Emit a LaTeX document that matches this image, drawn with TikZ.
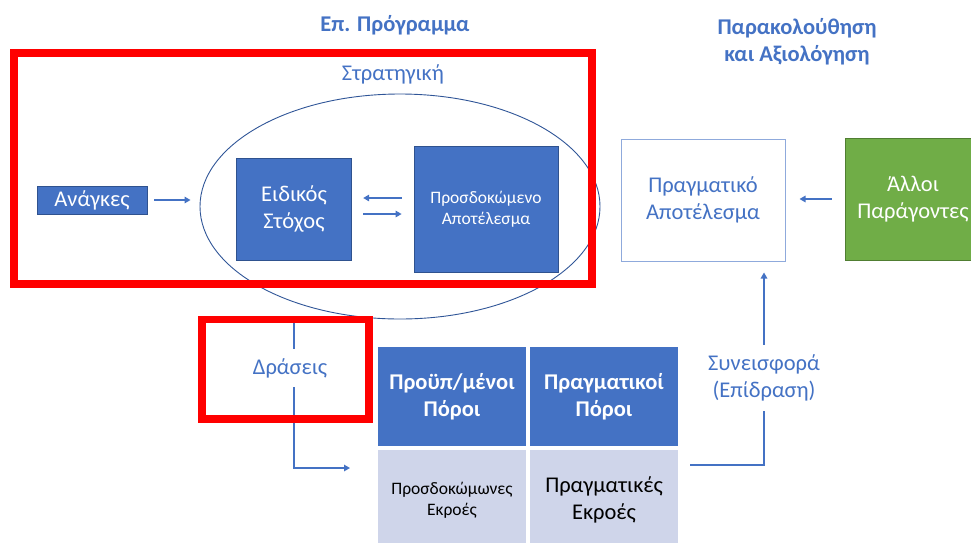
\documentclass[tikz,border=0pt]{standalone}
\usepackage{fontspec}
\setmainfont{Carlito}
\usetikzlibrary{arrows.meta,shapes.geometric,calc}

\definecolor{boxblue}{HTML}{4472C4}
\definecolor{boxedge}{HTML}{2F528F}
\definecolor{paleblue}{HTML}{CFD5EA}
\definecolor{frameblue}{HTML}{8FAADC}
\definecolor{leafgreen}{HTML}{70AD47}
\definecolor{leafedge}{HTML}{507E32}
\definecolor{ovalblue}{HTML}{2F5597}
\definecolor{markred}{HTML}{FF0000}

\tikzset{
  bigtext/.style={font=\fontsize{22.5}{27}\selectfont},
  boldtext/.style={font=\bfseries\fontsize{22.5}{27}\selectfont},
  smalltext/.style={font=\fontsize{17.5}{21}\selectfont},
  bluebox/.style={draw=boxedge, line width=0.8pt, fill=boxblue, text=white, align=center, inner sep=0pt},
  bluetext/.style={text=boxblue, align=center, inner sep=0pt},
  flow/.style={draw=boxblue, line width=1.4pt, -{Triangle[length=6pt,width=6.5pt]}},
  plainflow/.style={draw=boxblue, line width=1.4pt},
  cell/.style={inner sep=0pt, align=center, minimum width=148.5pt},
  redmark/.style={draw=markred, line width=7.5pt},
}

\begin{document}
\begin{tikzpicture}[x=1pt, y=-1pt]
  \useasboundingbox (0,0) rectangle (971,542);
  % titles
  \node[bluetext, boldtext] (progtitle) at (395,25) {Επ. Πρόγραμμα};
  \node[bluetext, boldtext] (evaltitle) at (797,41.5) {Παρακολούθηση\\και Αξιολόγηση};
  % strategy
  \node[bluetext, bigtext] (strattitle) at (393,74) {Στρατηγική};
  \node[ellipse, draw=ovalblue, line width=0.9pt, minimum width=400pt, minimum height=225pt] (strat) at (400,206.5) {};
  \node[bluebox, bigtext, minimum width=110pt, minimum height=28pt] (needs) at (92,200) {Ανάγκες};
  \node[bluebox, bigtext, minimum width=115.5pt, minimum height=102pt] (goal) at (294,209) {Ειδικός\\Στόχος};
  \node[bluebox, smalltext, minimum width=144pt, minimum height=126pt] (expected) at (486,209) {Προσδοκώμενο\\Αποτέλεσμα};
  % monitoring
  \node[draw=frameblue, line width=1pt, fill=white, bluetext, bigtext, minimum width=164pt, minimum height=122pt] (actual) at (703,200) {Πραγματικό\\Αποτέλεσμα};
  \node[draw=leafedge, line width=1pt, fill=leafgreen, text=white, align=center, inner sep=0pt, bigtext, minimum width=136pt, minimum height=122pt] (other) at (913,199) {Άλλοι\\Παράγοντες};
  % actions and table
  \node[bluetext, bigtext, minimum height=38pt] (actions) at (290,368) {Δράσεις};
  \node[cell, fill=boxblue, text=white, boldtext, minimum height=99pt] (budget) at (452,396.5) {Προϋπ/μένοι\\Πόροι};
  \node[cell, fill=boxblue, text=white, boldtext, minimum height=99pt] (spent) at (604,396.5) {Πραγματικοί\\Πόροι};
  \node[cell, fill=paleblue, text=black, smalltext, minimum height=100pt] (planout) at (452,500) {Προσδοκώμωνες\\Εκροές};
  \node[cell, fill=paleblue, text=black, bigtext, minimum height=100pt] (realout) at (604,500) {Πραγματικές\\Εκροές};
  \node[bluetext, bigtext, minimum height=66pt] (contrib) at (764,378) {Συνεισφορά\\(Επίδραση)};
  % connectors
  \coordinate (acttop) at (294,323);
  \coordinate (actin) at (350,468);
  \coordinate (outflow) at (690,465);
  \draw[flow] ($(needs.east)+(7,0)$) -- ($(needs.east -| strat.west)+(-9,0)$);
  \draw[flow] ($(expected.west)+(-12,-11)$) -- ($(goal.east)+(11,-11)$);
  \draw[flow] ($(goal.east)+(11,5)$) -- ($(expected.west)+(-12,5)$);
  \draw[flow] ($(other.west)+(-13,0)$) -- ($(other.west -| actual.east)+(14,0)$);
  \draw[plainflow] (acttop) -- (acttop |- actions.north);
  \draw[flow] (acttop |- actions.south) |- (actin);
  \draw[plainflow] (outflow) -| (contrib.south);
  \draw[flow] (contrib.north) -- ($(contrib.north |- actual.south)+(0,11)$);
  % red marks
  \draw[redmark] (14,53) rectangle (592,284);
  \draw[redmark] (202,319.5) rectangle (369,419);
\end{tikzpicture}
\end{document}
